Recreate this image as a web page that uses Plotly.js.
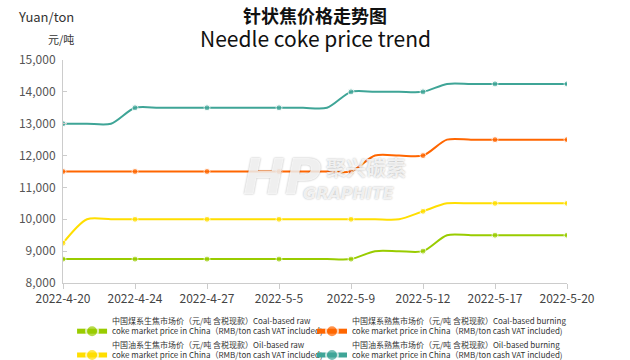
<!DOCTYPE html>
<html>
<head>
<meta charset="utf-8">
<script src="https://cdn.plot.ly/plotly-3.0.1.min.js"></script>
<style>html,body{margin:0;padding:0;background:#fff}#chart{width:630px;height:360px}</style>
</head>
<body>
<div id="chart"></div>
<script>
const dates = ['2022-4-20','2022-4-21','2022-4-22','2022-4-24','2022-4-25','2022-4-26','2022-4-27','2022-4-28','2022-4-29','2022-5-5','2022-5-6','2022-5-7','2022-5-9','2022-5-10','2022-5-11','2022-5-12','2022-5-13','2022-5-16','2022-5-17','2022-5-18','2022-5-19','2022-5-20'];
const coalRaw  = [8750,8750,8750,8750,8750,8750,8750,8750,8750,8750,8750,8750,8750,9000,9000,9000,9500,9500,9500,9500,9500,9500];
const coalBurn = [11500,11500,11500,11500,11500,11500,11500,11500,11500,11500,11500,11500,11500,12000,12000,12000,12500,12500,12500,12500,12500,12500];
const oilRaw   = [9250,10000,10000,10000,10000,10000,10000,10000,10000,10000,10000,10000,10000,10000,10000,10250,10500,10500,10500,10500,10500,10500];
const oilBurn  = [13000,13000,13000,13500,13500,13500,13500,13500,13500,13500,13500,13500,14000,14000,14000,14000,14250,14250,14250,14250,14250,14250];
const seriesNames = [
  '中国煤系生焦市场价（元/吨 含税现款）Coal-based raw<br>coke market price in China（RMB/ton cash VAT included)',
  '中国煤系熟焦市场价（元/吨 含税现款）Coal-based burning<br>coke market price in China（RMB/ton cash VAT included)',
  '中国油系生焦市场价（元/吨 含税现款）Oil-based raw<br>coke market price in China（RMB/ton cash VAT included)',
  '中国油系熟焦市场价（元/吨 含税现款）Oil-based burning<br>coke market price in China（RMB/ton cash VAT included)'
];
const seriesValues = [coalRaw, coalBurn, oilRaw, oilBurn];
const colors = ['#99cc00','#ff6600','#ffde00','#3fa597'];
const legendIds = ['legend','legend2','legend','legend2'];

const markerSizes = dates.map((d,i)=> i%3===0 ? 6 : 0);

const traces = seriesValues.map((vals,k)=>({
  type:'scatter', mode:'lines+markers', x:dates, y:vals, name:seriesNames[k],
  legend:legendIds[k],
  line:{color:colors[k], width:2, shape:'spline', smoothing:0.8},
  marker:{color:colors[k], size:markerSizes},
  hoverinfo:'skip'
}));

const font = '"Noto Sans CJK SC", "Noto Sans", sans-serif';
const wmFont = {color:'rgba(255,255,255,0.8)', shadow:'0px 0px 2px rgba(0,0,0,0.4)'};
const legendBase = {orientation:'v', y:-0.117, xanchor:'left', yanchor:'top', valign:'bottom',
  font:{size:8, color:'#333', family:font}, itemsizing:'constant', itemclick:false,
  tracegroupgap:0, bgcolor:'rgba(0,0,0,0)'};
const layout = {
  width:630, height:360,
  margin:{l:63, r:63, t:60, b:77, autoexpand:false},
  paper_bgcolor:'#fff', plot_bgcolor:'#fff',
  font:{family:font, color:'#444'},
  showlegend:true,
  legend:Object.assign({x:0.018}, legendBase),
  legend2:Object.assign({x:0.494}, legendBase),
  xaxis:{type:'category', range:[0,21], tickmode:'linear', tick0:0, dtick:3,
         showgrid:false, zeroline:false, showline:true, linecolor:'#ccc', linewidth:1,
         ticks:'outside', ticklen:5, tickcolor:'#ccc',
         tickfont:{size:12, color:'#444', family:font}},
  yaxis:{range:[8000,15000], tickvals:[8000,9000,10000,11000,12000,13000,14000,15000],
         tickformat:',d', showgrid:false, zeroline:false, showline:true, linecolor:'#ccc', linewidth:1,
         ticks:'inside', ticklen:4, tickcolor:'#ccc', ticklabelstandoff:4,
         tickfont:{size:12, color:'#555', family:font}},
  annotations:[
    {text:'<b>针状焦价格走势图</b>', xref:'paper', yref:'paper', x:0.5, y:1.2018, yanchor:'middle', showarrow:false,
     font:{size:18, color:'#111', family:font}},
    {text:'Needle coke price trend', xref:'paper', yref:'paper', x:0.5, y:1.0987, yanchor:'middle', showarrow:false,
     font:{size:21, color:'#111', family:font}},
    {text:'Yuan/ton', xref:'paper', yref:'paper', x:0.0258, y:1.193, xanchor:'right', yanchor:'middle', showarrow:false,
     font:{size:13, color:'#333', family:font}},
    {text:'元/吨', xref:'paper', yref:'paper', x:0.0258, y:1.094, xanchor:'right', yanchor:'middle', showarrow:false,
     font:{size:11, color:'#333', family:font}},
    {text:'<b><i>HP</i></b>', xref:'paper', yref:'paper', x:0.435, y:0.475, yanchor:'middle', showarrow:false,
     font:Object.assign({size:50, family:'DejaVu Sans'}, wmFont)},
    {text:'<b>聚兴碳素</b>', xref:'paper', yref:'paper', x:0.601, y:0.52, yanchor:'middle', showarrow:false,
     font:Object.assign({size:20, family:font}, wmFont)},
    {text:'<b><i>GRAPHITE</i></b>', xref:'paper', yref:'paper', x:0.566, y:0.40, yanchor:'middle', showarrow:false,
     font:Object.assign({size:16, family:'DejaVu Sans'}, wmFont)}
  ]
};
Plotly.newPlot('chart', traces, layout, {staticPlot:true, displayModeBar:false});
</script>
</body>
</html>
